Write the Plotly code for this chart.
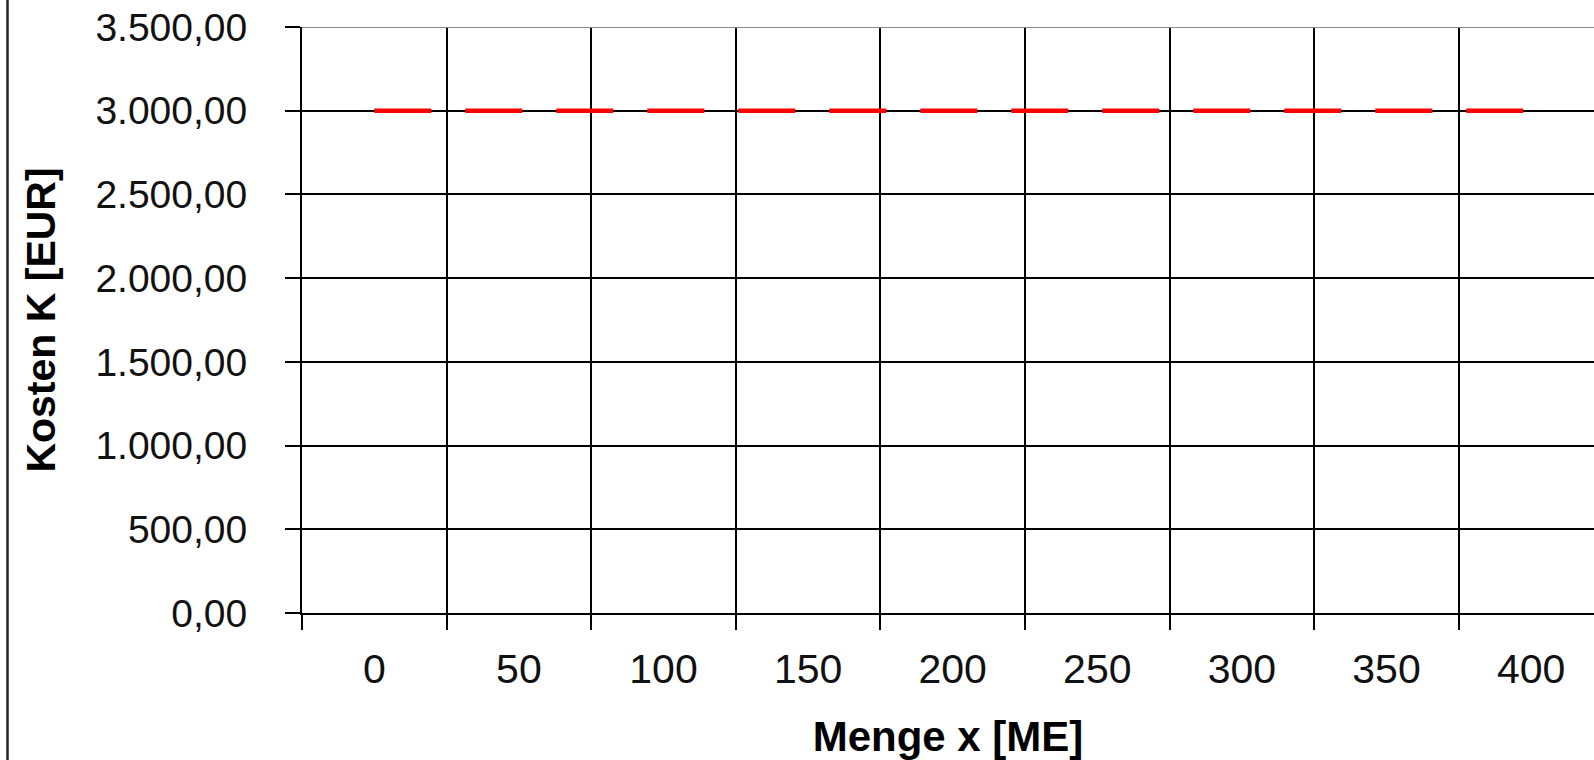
import plotly.graph_objects as go

# Data
menge_labels = ["0", "50", "100", "150", "200", "250", "300", "350", "400"]
kosten = [3000, 3000, 3000, 3000, 3000, 3000, 3000, 3000, 3000]
y_ticks = [0, 500, 1000, 1500, 2000, 2500, 3000, 3500]

W, H = 1594, 760
L, R, T, B = 302, 0, 27, 147
cat_w = 144.6
plot_w = W - L - R
x_idx = list(range(len(menge_labels)))
x_range = [-0.5, -0.5 + plot_w / cat_w]
boundaries = [i - 0.5 for i in range(len(menge_labels))]

font_fam = "Liberation Sans, Arial, sans-serif"

fig = go.Figure()
fig.add_trace(go.Scatter(
    x=x_idx, y=kosten, mode="lines",
    line=dict(color="#ff0000", width=4.5, dash="57px,34px"),
    showlegend=False, hoverinfo="skip",
))

fig.update_layout(
    width=W, height=H,
    margin=dict(l=L, r=R, t=T, b=B, autoexpand=False),
    paper_bgcolor="white", plot_bgcolor="white",
    separators=",.",
    font=dict(family=font_fam, color="black", size=42),
    showlegend=False,
)

fig.update_xaxes(
    range=x_range, autorange=False,
    tickmode="array", tickvals=x_idx, ticktext=menge_labels,
    ticks="", showgrid=False, zeroline=False,
    showline=True, linecolor="black", linewidth=2,
    tickfont=dict(family=font_fam, size=41, color="#111"),
    ticklabelstandoff=19,
    minor=dict(tickmode="array", tickvals=boundaries, ticks="outside", ticklen=15,
               tickwidth=2, tickcolor="black", showgrid=True, gridcolor="black", gridwidth=2),
    title=dict(text="<b>Menge x [ME]</b>", font=dict(family=font_fam, size=42, color="black"), standoff=31),
    automargin=False,
)

fig.update_yaxes(
    range=[0, 3500], autorange=False,
    tickmode="array", tickvals=y_ticks, tickformat=",.2f",
    ticks="outside", ticklen=15, tickwidth=2, tickcolor="black",
    showgrid=True, gridcolor="black", gridwidth=2, zeroline=False,
    showline=True, linecolor="black", linewidth=2,
    tickfont=dict(family=font_fam, size=39, color="#111"),
    ticklabelstandoff=30,
    title=dict(text="<b>Kosten K [EUR]</b>", font=dict(family=font_fam, size=41, color="black"), standoff=27),
    automargin=False,
)

# gray plot-area top border and chart-area left border
fig.add_shape(type="line", xref="paper", yref="y", x0=0, x1=1, y0=3500, y1=3500,
              line=dict(color="#8c8c8c", width=2), layer="above")
fig.add_shape(type="line", xref="paper", yref="paper",
              x0=(7.5 - L) / plot_w, x1=(7.5 - L) / plot_w, y0=-B / (H - T - B), y1=(H - B) / (H - T - B) + 0.05,
              line=dict(color="#222222", width=2.5), layer="above")

fig.write_html("out.html")
